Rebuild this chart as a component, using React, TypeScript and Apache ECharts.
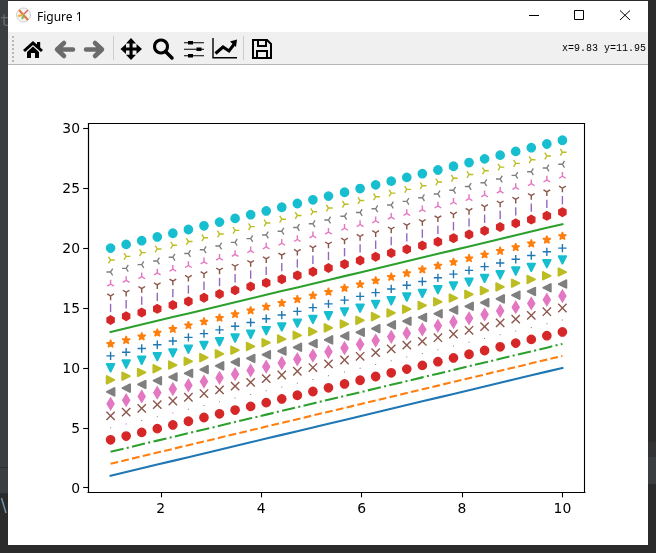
import React, { useEffect, useRef } from "react";
import * as echarts from "echarts";

// ---------- data ----------
const xValues = [1, 1.31, 1.62, 1.93, 2.24, 2.55, 2.86, 3.17, 3.48, 3.79, 4.1, 4.41, 4.72, 5.03, 5.34, 5.66, 5.97, 6.28, 6.59, 6.9, 7.21, 7.52, 7.83, 8.14, 8.45, 8.76, 9.07, 9.38, 9.69, 10];
const solidBlue = [1, 1.31, 1.62, 1.93, 2.24, 2.55, 2.86, 3.17, 3.48, 3.79, 4.1, 4.41, 4.72, 5.03, 5.34, 5.66, 5.97, 6.28, 6.59, 6.9, 7.21, 7.52, 7.83, 8.14, 8.45, 8.76, 9.07, 9.38, 9.69, 10];
const dashedOrange = [2, 2.31, 2.62, 2.93, 3.24, 3.55, 3.86, 4.17, 4.48, 4.79, 5.1, 5.41, 5.72, 6.03, 6.34, 6.66, 6.97, 7.28, 7.59, 7.9, 8.21, 8.52, 8.83, 9.14, 9.45, 9.76, 10.07, 10.38, 10.69, 11];
const dashDotGreen = [3, 3.31, 3.62, 3.93, 4.24, 4.55, 4.86, 5.17, 5.48, 5.79, 6.1, 6.41, 6.72, 7.03, 7.34, 7.66, 7.97, 8.28, 8.59, 8.9, 9.21, 9.52, 9.83, 10.14, 10.45, 10.76, 11.07, 11.38, 11.69, 12];
const circleRed = [4, 4.31, 4.62, 4.93, 5.24, 5.55, 5.86, 6.17, 6.48, 6.79, 7.1, 7.41, 7.72, 8.03, 8.34, 8.66, 8.97, 9.28, 9.59, 9.9, 10.21, 10.52, 10.83, 11.14, 11.45, 11.76, 12.07, 12.38, 12.69, 13];
const pixelPurple = [5, 5.31, 5.62, 5.93, 6.24, 6.55, 6.86, 7.17, 7.48, 7.79, 8.1, 8.41, 8.72, 9.03, 9.34, 9.66, 9.97, 10.28, 10.59, 10.9, 11.21, 11.52, 11.83, 12.14, 12.45, 12.76, 13.07, 13.38, 13.69, 14];
const crossBrown = [6, 6.31, 6.62, 6.93, 7.24, 7.55, 7.86, 8.17, 8.48, 8.79, 9.1, 9.41, 9.72, 10.03, 10.34, 10.66, 10.97, 11.28, 11.59, 11.9, 12.21, 12.52, 12.83, 13.14, 13.45, 13.76, 14.07, 14.38, 14.69, 15];
const diamondPink = [7, 7.31, 7.62, 7.93, 8.24, 8.55, 8.86, 9.17, 9.48, 9.79, 10.1, 10.41, 10.72, 11.03, 11.34, 11.66, 11.97, 12.28, 12.59, 12.9, 13.21, 13.52, 13.83, 14.14, 14.45, 14.76, 15.07, 15.38, 15.69, 16];
const leftGray = [8, 8.31, 8.62, 8.93, 9.24, 9.55, 9.86, 10.17, 10.48, 10.79, 11.1, 11.41, 11.72, 12.03, 12.34, 12.66, 12.97, 13.28, 13.59, 13.9, 14.21, 14.52, 14.83, 15.14, 15.45, 15.76, 16.07, 16.38, 16.69, 17];
const rightOlive = [9, 9.31, 9.62, 9.93, 10.24, 10.55, 10.86, 11.17, 11.48, 11.79, 12.1, 12.41, 12.72, 13.03, 13.34, 13.66, 13.97, 14.28, 14.59, 14.9, 15.21, 15.52, 15.83, 16.14, 16.45, 16.76, 17.07, 17.38, 17.69, 18];
const downCyan = [10, 10.31, 10.62, 10.93, 11.24, 11.55, 11.86, 12.17, 12.48, 12.79, 13.1, 13.41, 13.72, 14.03, 14.34, 14.66, 14.97, 15.28, 15.59, 15.9, 16.21, 16.52, 16.83, 17.14, 17.45, 17.76, 18.07, 18.38, 18.69, 19];
const plusBlue = [11, 11.31, 11.62, 11.93, 12.24, 12.55, 12.86, 13.17, 13.48, 13.79, 14.1, 14.41, 14.72, 15.03, 15.34, 15.66, 15.97, 16.28, 16.59, 16.9, 17.21, 17.52, 17.83, 18.14, 18.45, 18.76, 19.07, 19.38, 19.69, 20];
const starOrange = [12, 12.31, 12.62, 12.93, 13.24, 13.55, 13.86, 14.17, 14.48, 14.79, 15.1, 15.41, 15.72, 16.03, 16.34, 16.66, 16.97, 17.28, 17.59, 17.9, 18.21, 18.52, 18.83, 19.14, 19.45, 19.76, 20.07, 20.38, 20.69, 21];
const solidGreen = [13, 13.31, 13.62, 13.93, 14.24, 14.55, 14.86, 15.17, 15.48, 15.79, 16.1, 16.41, 16.72, 17.03, 17.34, 17.66, 17.97, 18.28, 18.59, 18.9, 19.21, 19.52, 19.83, 20.14, 20.45, 20.76, 21.07, 21.38, 21.69, 22];
const hexagonRed = [14, 14.31, 14.62, 14.93, 15.24, 15.55, 15.86, 16.17, 16.48, 16.79, 17.1, 17.41, 17.72, 18.03, 18.34, 18.66, 18.97, 19.28, 19.59, 19.9, 20.21, 20.52, 20.83, 21.14, 21.45, 21.76, 22.07, 22.38, 22.69, 23];
const vlinePurple = [15, 15.31, 15.62, 15.93, 16.24, 16.55, 16.86, 17.17, 17.48, 17.79, 18.1, 18.41, 18.72, 19.03, 19.34, 19.66, 19.97, 20.28, 20.59, 20.9, 21.21, 21.52, 21.83, 22.14, 22.45, 22.76, 23.07, 23.38, 23.69, 24];
const triDownBrown = [16, 16.31, 16.62, 16.93, 17.24, 17.55, 17.86, 18.17, 18.48, 18.79, 19.1, 19.41, 19.72, 20.03, 20.34, 20.66, 20.97, 21.28, 21.59, 21.9, 22.21, 22.52, 22.83, 23.14, 23.45, 23.76, 24.07, 24.38, 24.69, 25];
const triUpPink = [17, 17.31, 17.62, 17.93, 18.24, 18.55, 18.86, 19.17, 19.48, 19.79, 20.1, 20.41, 20.72, 21.03, 21.34, 21.66, 21.97, 22.28, 22.59, 22.9, 23.21, 23.52, 23.83, 24.14, 24.45, 24.76, 25.07, 25.38, 25.69, 26];
const triLeftGray = [18, 18.31, 18.62, 18.93, 19.24, 19.55, 19.86, 20.17, 20.48, 20.79, 21.1, 21.41, 21.72, 22.03, 22.34, 22.66, 22.97, 23.28, 23.59, 23.9, 24.21, 24.52, 24.83, 25.14, 25.45, 25.76, 26.07, 26.38, 26.69, 27];
const triRightOlive = [19, 19.31, 19.62, 19.93, 20.24, 20.55, 20.86, 21.17, 21.48, 21.79, 22.1, 22.41, 22.72, 23.03, 23.34, 23.66, 23.97, 24.28, 24.59, 24.9, 25.21, 25.52, 25.83, 26.14, 26.45, 26.76, 27.07, 27.38, 27.69, 28];
const circleCyan = [20, 20.31, 20.62, 20.93, 21.24, 21.55, 21.86, 22.17, 22.48, 22.79, 23.1, 23.41, 23.72, 24.03, 24.34, 24.66, 24.97, 25.28, 25.59, 25.9, 26.21, 26.52, 26.83, 27.14, 27.45, 27.76, 28.07, 28.38, 28.69, 29];

const xTicks = [2, 4, 6, 8, 10];
const yTicks = [0, 5, 10, 15, 20, 25, 30];
const figureTitle = "Figure 1";
const statusText = "x=9.83 y=11.95";

// ---------- styles ----------
const C = { blue: "#1f77b4", orange: "#ff7f0e", green: "#2ca02c", red: "#d62728", purple: "#9467bd", brown: "#8c564b", pink: "#e377c2", gray: "#7f7f7f", olive: "#bcbd22", cyan: "#17becf" };
const MS = 8.33;
const MEW = 1.39;
const LW = 2.08;

function lineSeries(values: number[], color: string, dash: any) {
  return {
    type: "line",
    data: values.map((v, i) => [xValues[i], v]),
    symbol: "none",
    showSymbol: false,
    silent: true,
    lineStyle: { color, width: LW, type: dash, cap: dash === "solid" ? "square" : "butt" },
  };
}
function filledMarker(values: number[], color: string, symbol: string, size: any, join: string, offset?: number[]) {
  return {
    type: "scatter",
    data: values.map((v, i) => [xValues[i], v]),
    symbol,
    symbolSize: size,
    symbolOffset: offset || [0, 0],
    silent: true,
    itemStyle: { color, opacity: 1, borderColor: color, borderWidth: MEW, borderJoin: join, borderMiterLimit: 10 },
  };
}
function strokeMarker(values: number[], color: string, symbol: string, size: any, offset?: number[]) {
  return {
    type: "scatter",
    data: values.map((v, i) => [xValues[i], v]),
    symbol,
    symbolSize: size,
    symbolOffset: offset || [0, 0],
    silent: true,
    itemStyle: { color: "transparent", opacity: 1, borderColor: color, borderWidth: MEW, borderCap: "butt" },
  };
}

const triangleLeft = "path://M0 50L100 0L100 100Z";
const triangleRight = "path://M100 50L0 0L0 100Z";
const triangleDown = "path://M50 100L0 0L100 0Z";
const thinDiamond = "path://M50 0L100 50L50 100L0 50Z";
const hexagon = "path://M50 0L93.3 25L93.3 75L50 100L6.7 75L6.7 25Z";
const star = "path://M50 0L61.2 34.5L97.6 34.5L68.2 55.9L79.4 90.5L50 69.1L20.6 90.5L31.8 55.9L2.4 34.5L38.8 34.5Z";
const crossX = "path://M0 0L100 100M0 100L100 0";
const plus = "path://M0 50L100 50M50 0L50 100";
const triDown = "path://M50 50L50 100M50 50L90 25M50 50L10 25";
const triUp = "path://M50 50L50 0M50 50L90 75M50 50L10 75";
const triLeft = "path://M50 50L0 50M50 50L75 10M50 50L75 90";
const triRight = "path://M50 50L100 50M50 50L25 10M50 50L25 90";

const chromeShapes: Record<string, string> = {
  homeIcon: "M33 41L23 50L25 52L33 45L41 52L43 50L40.2 47.4V42H37V44.6ZM33 46.6L27 52V58H31V53H35V58H39V52Z",
  moveIcon: "M120.5 49L126 44V47.6H129.5V43.5H126L131 38L136 43.5H132.6V47.6H136.5V44L142 49L136.5 54V50.5H132.6V54.8H136L131 60L126 54.8H129.5V50.5H126V54Z",
  backIcon: "M64 43L57 49.5L64 56M58 49.5H73",
  forwardIcon: "M95 43L102 49.5L95 56M101 49.5H86",
  zoomHandle: "M166 52L172 58",
  slidersIcon: "M184 42.7H204M184 49.3H204M184 55.8H204",
  chartIcon: "M213 38V57.7H237",
  chartLine: "M215.5 53.5L223 47L229 51L235 43",
  chartHead: "M230 41.5L237 39.5L236 47Z",
  saveIcon: "M253 40H267L271 44V58H253ZM258 40V46H266V40M257 58V51H267V58",
  closeIcon: "M620 10.5L630 20M630 10.5L620 20",
};
Object.keys(chromeShapes).forEach((k) => {
  echarts.graphic.registerShape(k, echarts.graphic.extendPath(chromeShapes[k], {}));
});

function rect(x: number, y: number, width: number, height: number, fill: string) {
  return { type: "rect", shape: { x, y, width, height }, style: { fill } };
}
function icon(type: string, style: any) {
  return { type, x: 0, y: 0, style };
}
function seg(x1: number, y1: number, x2: number, y2: number, stroke: string, lineWidth = 1) {
  return { type: "line", shape: { x1, y1, x2, y2 }, style: { stroke, lineWidth } };
}

const gripDots = [36, 40, 44, 48, 52, 56, 60];

const chromeElements: any[] = [
  rect(0, 0, 656, 553, "#2b2b2b"),
  rect(0, 0, 8, 493, "#3b3e40"),
  rect(0, 467, 8, 1, "#2f3133"),
  rect(648, 442, 8, 15, "#313335"),
  rect(648, 457, 8, 27, "#3b3e40"),
  { type: "text", x: 0, y: 20, style: { text: "t", fill: "#6a6a6a", font: "16px 'DejaVu Sans Mono'", textVerticalAlign: "middle", textAlign: "left" } },
  seg(1.5, 498, 6, 513, "#6f93a8", 1.5),
  rect(8, 1, 640, 544, "#ffffff"),
  rect(8, 32, 640, 32, "#f0f0f0"),
  rect(8, 64, 640, 1, "#b5b5b5"),
  { type: "rect", shape: { x: 88.5, y: 123.5, width: 496, height: 369 }, style: { fill: "none", stroke: "#000", lineWidth: 1.1 } },
  { type: "circle", shape: { cx: 23.5, cy: 15, r: 7 }, style: { fill: "#f4f4f4", stroke: "#cfcfcf", lineWidth: 1 } },
  seg(19, 10, 28, 20, "#e8743a", 2),
  seg(18, 16, 23, 15, "#f2b134", 2),
  seg(22, 19, 24, 15, "#7fb86a", 2),
  seg(24, 14, 28, 10, "#e06060", 1.5),
  { type: "text", x: 37, y: 16, style: { text: figureTitle, fill: "#000", font: "12px 'Noto Sans'", textVerticalAlign: "middle", textAlign: "left" } },
  seg(529, 15.5, 539, 15.5, "#000", 1),
  { type: "rect", shape: { x: 574.5, y: 10.5, width: 9, height: 9 }, style: { fill: "none", stroke: "#000", lineWidth: 1 } },
  icon("closeIcon", { fill: "none", stroke: "#000", lineWidth: 1 }),
  ...gripDots.map((y) => rect(12, y, 2, 2, "#b9b9b9")),
  icon("homeIcon", { fill: "#000" }),
  icon("backIcon", { fill: "none", stroke: "#6b6b6b", lineWidth: 4.5, lineCap: "round", lineJoin: "round" }),
  icon("forwardIcon", { fill: "none", stroke: "#6b6b6b", lineWidth: 4.5, lineCap: "round", lineJoin: "round" }),
  rect(113, 36, 1, 24, "#cccccc"),
  icon("moveIcon", { fill: "#000" }),
  { type: "circle", shape: { cx: 161, cy: 46.5, r: 6.5 }, style: { fill: "none", stroke: "#000", lineWidth: 3 } },
  icon("zoomHandle", { fill: "none", stroke: "#000", lineWidth: 3.5, lineCap: "round" }),
  icon("slidersIcon", { fill: "none", stroke: "#000", lineWidth: 1.1 }),
  rect(188, 41, 5, 3.5, "#000"),
  rect(196.5, 47.5, 5, 3.5, "#000"),
  rect(188, 54, 5, 3.5, "#000"),
  icon("chartIcon", { fill: "none", stroke: "#000", lineWidth: 1.4 }),
  icon("chartLine", { fill: "none", stroke: "#000", lineWidth: 3, lineJoin: "miter" }),
  icon("chartHead", { fill: "#000" }),
  rect(243, 36, 1, 24, "#cccccc"),
  icon("saveIcon", { fill: "none", stroke: "#000", lineWidth: 2 }),
  { type: "text", x: 562, y: 48.5, style: { text: statusText, fill: "#000", font: "10px 'Liberation Mono'", textVerticalAlign: "middle", textAlign: "left" } },
];

export default function App() {
  const ref = useRef<HTMLDivElement>(null);
  useEffect(() => {
    const chart = echarts.init(ref.current!, undefined, { renderer: "svg", width: 656, height: 553 });
    const axisCommon = {
      type: "value",
      splitLine: { show: false },
      axisLine: { show: true, onZero: false, lineStyle: { color: "#000", width: 1.1 } },
    };
    chart.setOption({
      animation: false,
      graphic: { z: -10, elements: chromeElements },
      grid: { show: false, left: 88, right: 71, top: 123.5, bottom: 60.5, containLabel: false },
      xAxis: {
        ...axisCommon,
        min: 0.55,
        max: 10.45,
        axisTick: { show: true, length: 4.86, customValues: xTicks, lineStyle: { color: "#000", width: 1.1 } },
        axisLabel: { show: true, customValues: xTicks, margin: 8, color: "#000", fontSize: 13.9, fontFamily: "DejaVu Sans" },
      },
      yAxis: {
        ...axisCommon,
        min: -0.4,
        max: 30.4,
        axisTick: { show: true, length: 4.86, customValues: yTicks, lineStyle: { color: "#000", width: 1.1 } },
        axisLabel: { show: true, customValues: yTicks, margin: 8, color: "#000", fontSize: 13.9, fontFamily: "DejaVu Sans" },
      },
      series: [
        lineSeries(solidBlue, C.blue, "solid"),
        lineSeries(dashedOrange, C.orange, [7.7, 3.33]),
        lineSeries(dashDotGreen, C.green, [13.3, 3.33, 2.08, 3.33]),
        filledMarker(circleRed, C.red, "circle", MS, "miter"),
        {
          type: "scatter",
          data: pixelPurple.map((v, i) => [xValues[i], v]),
          symbol: "rect",
          symbolSize: 1,
          silent: true,
          itemStyle: { color: C.purple, opacity: 1 },
        },
        strokeMarker(crossBrown, C.brown, crossX, MS),
        filledMarker(diamondPink, C.pink, thinDiamond, [7.07, 11.78], "miter"),
        filledMarker(leftGray, C.gray, triangleLeft, MS, "bevel"),
        filledMarker(rightOlive, C.olive, triangleRight, MS, "bevel"),
        filledMarker(downCyan, C.cyan, triangleDown, MS, "bevel"),
        strokeMarker(plusBlue, C.blue, plus, MS),
        filledMarker(starOrange, C.orange, star, [7.92, 7.54], "bevel", [0, -0.4]),
        lineSeries(solidGreen, C.green, "solid"),
        filledMarker(hexagonRed, C.red, hexagon, [7.21, 8.33], "miter"),
        {
          type: "scatter",
          data: vlinePurple.map((v, i) => [xValues[i], v]),
          symbol: "rect",
          symbolSize: [1.39, MS],
          silent: true,
          itemStyle: { color: C.purple, opacity: 1 },
        },
        strokeMarker(triDownBrown, C.brown, triDown, [6.67, 6.25], [0, 1.04]),
        strokeMarker(triUpPink, C.pink, triUp, [6.67, 6.25], [0, -1.04]),
        strokeMarker(triLeftGray, C.gray, triLeft, [6.25, 6.67], [-1.04, 0]),
        strokeMarker(triRightOlive, C.olive, triRight, [6.25, 6.67], [1.04, 0]),
        filledMarker(circleCyan, C.cyan, "circle", MS, "miter"),
      ],
    });
    return () => chart.dispose();
  }, []);
  return <div ref={ref} style={{ position: "fixed", left: 0, top: 0, width: 656, height: 553 }} />;
}
